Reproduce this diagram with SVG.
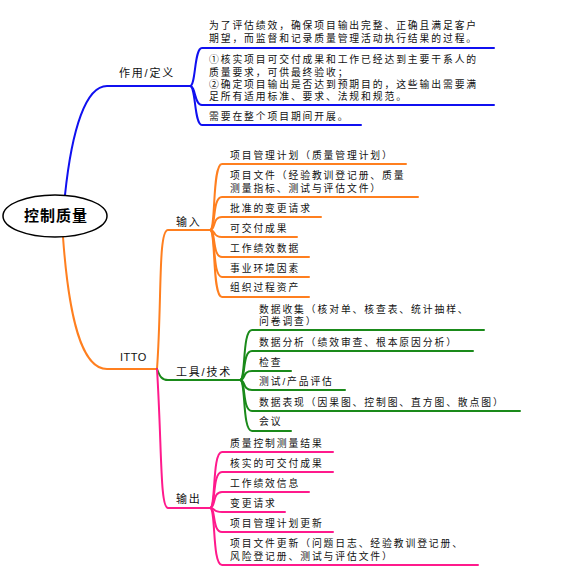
<svg xmlns="http://www.w3.org/2000/svg" width="564" height="583" viewBox="0 0 564 583">
<style>
  .t { font-family: "Liberation Sans", "Noto Sans CJK SC", sans-serif; font-size: 9.8px; letter-spacing: 1.9px; fill: #111; }
  .lbl { font-family: "Liberation Sans", "Noto Sans CJK SC", sans-serif; font-size: 11px; letter-spacing: 1.8px; fill: #111; }
  .lat { font-family: "Liberation Sans", "Noto Sans", sans-serif; font-size: 11px; letter-spacing: 0.5px; fill: #111; }
  .c { fill: none; stroke-width: 2; stroke-linecap: round; }
  .blue { stroke: #1010F0; }
  .orange { stroke: #FF7F1F; }
  .green { stroke: #1A8A1A; }
  .pink { stroke: #FF1A8C; }
</style>
<rect width="564" height="583" fill="#ffffff"/>
<g id="connectors">
  <path class="c blue" d="M65,195 C72,128 86,86 107,86 L190,86"/>
  <path class="c blue" d="M190,86 C196,86 194,48 202,48 L494,48"/>
  <path class="c blue" d="M190,86 C196,86 194,105 202,105 L494,105"/>
  <path class="c blue" d="M190,86 C196,86 194,125 202,125 L361,125"/>

  <path class="c orange" d="M63,237 C69,320 82,369 107,369 L157,369"/>
  <path class="c orange" d="M157,369 C162,300 158,230 168,230 L210,230"/>
  <path class="c orange" d="M210,230 C216,230 212,164 222,164 L406,164"/>
  <path class="c orange" d="M210,230 C216,230 212,197 222,197 L418,197"/>
  <path class="c orange" d="M210,230 C216,230 212,217 222,217 L321,217"/>
  <path class="c orange" d="M210,230 C216,230 212,237 222,237 L297,237"/>
  <path class="c orange" d="M210,230 C216,230 212,257 222,257 L309,257"/>
  <path class="c orange" d="M210,230 C216,230 212,277 222,277 L309,277"/>
  <path class="c orange" d="M210,230 C216,230 212,297 222,297 L309,297"/>

  <path class="c green" d="M157,369 C160,377 162,380 168,380 L240,380"/>
  <path class="c green" d="M240,380 C246,380 242,330 252,330 L484,330"/>
  <path class="c green" d="M240,380 C246,380 242,351 252,351 L473,351"/>
  <path class="c green" d="M240,380 C246,380 242,371 252,371 L291,371"/>
  <path class="c green" d="M240,380 C246,380 242,390 252,390 L345,390"/>
  <path class="c green" d="M240,380 C246,380 242,411 252,411 L520,411"/>
  <path class="c green" d="M240,380 C246,380 242,431 252,431 L291,431"/>

  <path class="c pink" d="M157,369 C162,450 160,508 168,508 L210,508"/>
  <path class="c pink" d="M210,508 C216,508 212,452 222,452 L333,452"/>
  <path class="c pink" d="M210,508 C216,508 212,472 222,472 L333,472"/>
  <path class="c pink" d="M210,508 C216,508 212,492 222,492 L309,492"/>
  <path class="c pink" d="M210,508 C216,508 212,512 222,512 L285,512"/>
  <path class="c pink" d="M210,508 C216,508 212,532 222,532 L333,532"/>
  <path class="c pink" d="M210,508 C216,508 212,565 222,565 L478,565"/>
</g>

<g id="root">
  <ellipse cx="55" cy="216" rx="52" ry="21" fill="#ffffff" stroke="#000" stroke-width="1.5"/>
  <text x="56" y="221" text-anchor="middle" font-family="Noto Sans CJK SC, Noto Sans, sans-serif" font-size="15" font-weight="bold" letter-spacing="1" fill="#000">控制质量</text>
</g>

<g id="def"><text class="lbl" x="119" y="77">作用/定义</text></g>
<g id="def1"><text class="t" x="209" y="29">为了评估绩效，确保项目输出完整、正确且满足客户</text><text class="t" x="209" y="42">期望，而监督和记录质量管理活动执行结果的过程。</text></g>
<g id="def2"><text class="t" x="209" y="63">①核实项目可交付成果和工作已经达到主要干系人的</text><text class="t" x="209" y="76">质量要求，可供最终验收；</text><text class="t" x="209" y="88">②确定项目输出是否达到预期目的，这些输出需要满</text><text class="t" x="209" y="100">足所有适用标准、要求、法规和规范。</text></g>
<g id="def3"><text class="t" x="209" y="120">需要在整个项目期间开展。</text></g>

<g id="itto"><text class="lat" x="120" y="361">ITTO</text></g>

<g id="input"><text class="lbl" x="176" y="226">输入</text></g>
<g id="in1"><text class="t" x="230" y="159">项目管理计划（质量管理计划）</text></g>
<g id="in2"><text class="t" x="230" y="179">项目文件（经验教训登记册、质量</text><text class="t" x="230" y="192">测量指标、测试与评估文件）</text></g>
<g id="in3"><text class="t" x="230" y="212">批准的变更请求</text></g>
<g id="in4"><text class="t" x="230" y="232">可交付成果</text></g>
<g id="in5"><text class="t" x="230" y="252">工作绩效数据</text></g>
<g id="in6"><text class="t" x="230" y="272">事业环境因素</text></g>
<g id="in7"><text class="t" x="230" y="291">组织过程资产</text></g>

<g id="tools"><text class="lbl" x="176" y="376">工具/技术</text></g>
<g id="tt1"><text class="t" x="259" y="313">数据收集（核对单、核查表、统计抽样、</text><text class="t" x="259" y="325">问卷调查）</text></g>
<g id="tt2"><text class="t" x="259" y="346">数据分析（绩效审查、根本原因分析）</text></g>
<g id="tt3"><text class="t" x="259" y="366">检查</text></g>
<g id="tt4"><text class="t" x="259" y="385">测试/产品评估</text></g>
<g id="tt5"><text class="t" x="259" y="406">数据表现（因果图、控制图、直方图、散点图）</text></g>
<g id="tt6"><text class="t" x="259" y="425">会议</text></g>

<g id="output"><text class="lbl" x="176" y="503">输出</text></g>
<g id="out1"><text class="t" x="230" y="447">质量控制测量结果</text></g>
<g id="out2"><text class="t" x="230" y="467">核实的可交付成果</text></g>
<g id="out3"><text class="t" x="230" y="487">工作绩效信息</text></g>
<g id="out4"><text class="t" x="230" y="507">变更请求</text></g>
<g id="out5"><text class="t" x="230" y="527">项目管理计划更新</text></g>
<g id="out6"><text class="t" x="230" y="547">项目文件更新（问题日志、经验教训登记册、</text><text class="t" x="230" y="560">风险登记册、测试与评估文件）</text></g>
</svg>
